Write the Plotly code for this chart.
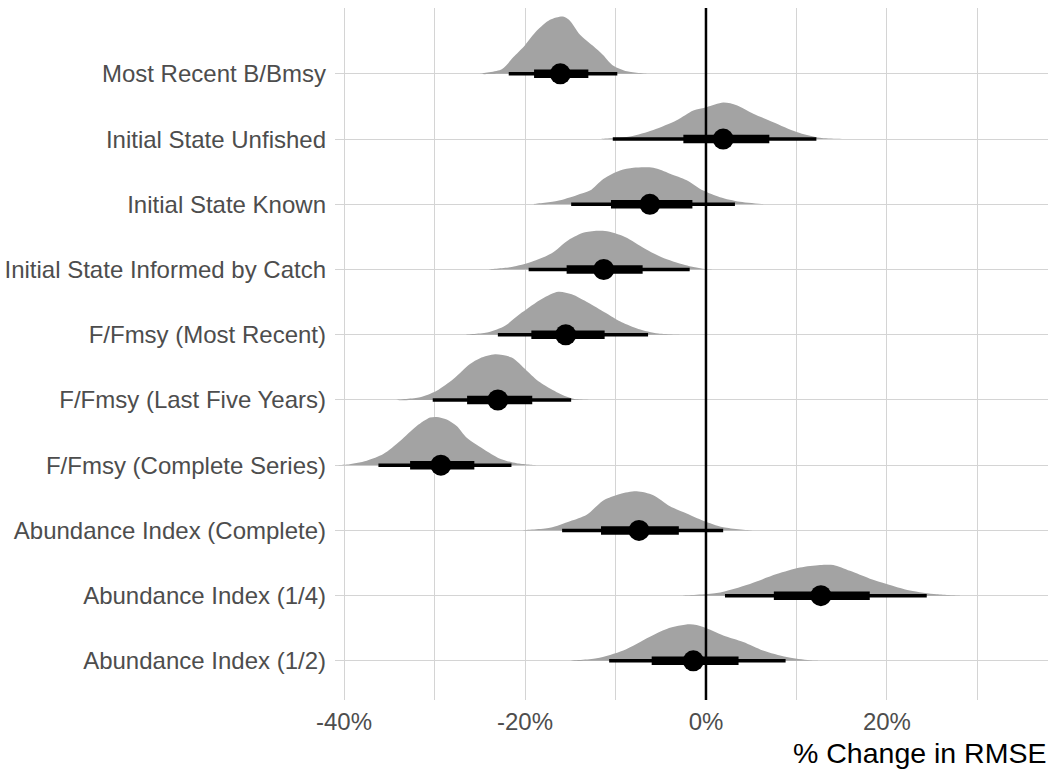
import plotly.graph_objects as go

# Scenario labels, bottom to top
scenarios = [
    "Abundance Index (1/2)",
    "Abundance Index (1/4)",
    "Abundance Index (Complete)",
    "F/Fmsy (Complete Series)",
    "F/Fmsy (Last Five Years)",
    "F/Fmsy (Most Recent)",
    "Initial State Informed by Catch",
    "Initial State Known",
    "Initial State Unfished",
    "Most Recent B/Bmsy",
]

# Posterior medians and interval bounds (% change in RMSE)
median = [-1.4, 12.7, -7.4, -29.3, -23.0, -15.5, -11.3, -6.2, 1.9, -16.1]
lo66 = [-6.0, 7.5, -11.6, -32.7, -26.4, -19.3, -15.4, -10.5, -2.5, -19.0]
hi66 = [3.6, 18.1, -3.0, -25.6, -19.2, -11.2, -7.0, -1.5, 7.0, -13.0]
lo95 = [-10.7, 2.1, -15.9, -36.2, -30.2, -23.0, -19.6, -14.9, -10.3, -21.8]
hi95 = [8.8, 24.4, 1.9, -21.5, -14.9, -6.4, -1.8, 3.2, 12.2, -9.8]

# Density outlines: x positions (%) and heights (in units of row spacing)
dens_x = [
    [-15.03, -12.08, -9.14, -6.19, -4.34, -1.77, -0.30, 1.91, 4.12, 6.30, 8.92, 11.49, 13.70],
    [-2.51, 1.18, 4.86, 7.81, 10.39, 12.60, 14.07, 15.91, 18.12, 19.97, 22.54, 25.49, 28.07],
    [-20.19, -17.24, -15.03, -13.18, -11.35, -9.50, -7.66, -5.82, -3.98, -2.13, -0.30, 1.91, 5.23],
    [-40.60, -39.70, -37.49, -35.66, -33.81, -31.97, -30.50, -29.76, -28.65, -27.55, -26.44, -24.61, -22.76, -20.92, -18.71],
    [-34.18, -31.60, -29.76, -27.92, -26.08, -24.97, -23.31, -21.47, -19.81, -18.34, -16.50, -14.66, -12.08],
    [-26.63, -24.06, -22.21, -20.36, -18.15, -16.32, -14.84, -13.00, -11.16, -9.31, -7.48, -5.27, -1.96],
    [-24.06, -21.47, -19.26, -17.05, -15.22, -13.37, -11.16, -8.95, -6.74, -4.90, -2.32, -0.11, 2.43],
    [-19.08, -16.50, -14.29, -12.82, -11.35, -9.50, -8.03, -5.82, -3.98, -2.13, -0.30, 1.55, 3.76, 6.71],
    [-11.71, -8.40, -5.82, -3.24, -1.40, 0.07, 1.91, 3.39, 5.23, 7.44, 10.02, 12.60, 16.24],
    [-24.97, -22.57, -21.33, -20.00, -18.71, -17.24, -15.80, -15.14, -13.92, -12.49, -11.38, -10.28, -8.73, -6.19],
]
dens_h = [
    [0, .04, .16, .37, .49, .56, .52, .39, .29, .16, .06, .01, 0],
    [0, .04, .18, .33, .43, .47, .47, .38, .26, .18, .08, .02, 0],
    [0, .04, .14, .24, .46, .56, .60, .54, .37, .26, .15, .05, 0],
    [0, .01, .07, .17, .37, .60, .73, .74, .70, .60, .42, .25, .10, .03, 0],
    [0, .04, .14, .32, .55, .64, .70, .65, .45, .27, .12, .02, 0],
    [0, .04, .14, .34, .55, .66, .62, .49, .34, .19, .09, .02, 0],
    [0, .04, .12, .25, .45, .57, .59, .50, .32, .19, .07, .01, 0],
    [0, .05, .14, .21, .39, .52, .56, .56, .47, .37, .21, .11, .04, 0],
    [0, .04, .14, .29, .44, .49, .56, .52, .39, .26, .11, .02, 0],
    [0, .07, .25, .44, .66, .83, .88, .83, .60, .43, .29, .13, .04, 0],
]

x_ticks = [-40, -20, 0, 20]
x_ticklabels = ["-40%", "-20%", "0%", "20%"]

FONT = "Liberation Sans Narrow, Arial Narrow, Liberation Sans, sans-serif"
DENS_COLOR = "#a3a3a3"
GRID = "#d4d4d4"

fig = go.Figure()

# Half-eye densities sitting on each scenario's baseline
for i, (xs, hs) in enumerate(zip(dens_x, dens_h)):
    poly_x = list(xs) + list(reversed(xs))
    poly_y = [i + h for h in hs] + [i] * len(xs)
    fig.add_trace(go.Scatter(
        x=poly_x, y=poly_y, mode="lines", fill="toself",
        fillcolor=DENS_COLOR, line=dict(width=0, color=DENS_COLOR, shape="spline", smoothing=0.8),
        hoverinfo="skip", showlegend=False,
    ))

# 95% intervals (thin) and 66% intervals (thick)
def seg_xy(lo, hi):
    xs, ys = [], []
    for i, (a, b) in enumerate(zip(lo, hi)):
        xs += [a, b, None]
        ys += [i, i, None]
    return xs, ys

tx, ty = seg_xy(lo95, hi95)
fig.add_trace(go.Scatter(x=tx, y=ty, mode="lines", line=dict(color="black", width=3.5),
                         hoverinfo="skip", showlegend=False))
kx, ky = seg_xy(lo66, hi66)
fig.add_trace(go.Scatter(x=kx, y=ky, mode="lines", line=dict(color="black", width=8.5),
                         hoverinfo="skip", showlegend=False))
fig.add_trace(go.Scatter(x=median, y=list(range(len(scenarios))), mode="markers",
                         marker=dict(color="black", size=21, line=dict(width=0)),
                         showlegend=False))

# Reference line at zero change
fig.add_vline(x=0, line=dict(color="black", width=2.5), layer="above")

fig.add_annotation(
    text="% Change in RMSE", xref="paper", yref="paper", x=1, y=0,
    xanchor="right", yanchor="top", yshift=-35, showarrow=False,
    font=dict(family=FONT, size=28.5, color="black"),
)

fig.update_layout(
    width=1052, height=774,
    margin=dict(l=335, r=4, t=8, b=74),
    plot_bgcolor="white", paper_bgcolor="white",
    font=dict(family=FONT, size=24, color="#4d4d4d"),
    xaxis=dict(
        range=[-41.0, 37.8], tickvals=x_ticks, ticktext=x_ticklabels,
        showgrid=True, gridcolor=GRID, gridwidth=1,
        minor=dict(dtick=10, tick0=0, showgrid=True, gridcolor=GRID, gridwidth=1),
        zeroline=False, showline=False, ticks="", ticklabelstandoff=5,
        tickfont=dict(family=FONT, size=24, color="#4d4d4d"),
    ),
    yaxis=dict(
        range=[-0.6, 10.01], tickvals=list(range(len(scenarios))), ticktext=scenarios,
        showgrid=True, gridcolor=GRID, gridwidth=1,
        zeroline=False, showline=False, ticks="", ticklabelstandoff=8,
        tickfont=dict(family=FONT, size=24, color="#4d4d4d"),
    ),
)

fig.write_html("out.html")
